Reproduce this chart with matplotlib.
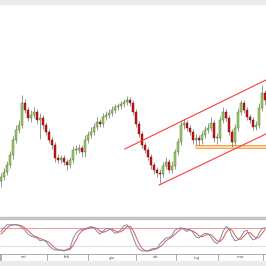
import matplotlib
matplotlib.use("Agg")
import matplotlib.pyplot as plt
from matplotlib.patches import Rectangle

# candle data (arbitrary price units)
opens = [36, 40, 45, 52, 62, 77, 87, 92, 114, 107,
         99, 102, 105, 97, 99, 92, 85, 77, 72, 59,
         57, 59, 55, 52, 57, 67, 67, 69, 65, 77,
         82, 85, 90, 95, 93, 100, 102, 104, 107, 110,
         111, 113, 115, 117, 114, 105, 93, 83, 72, 67,
         60, 52, 47, 44, 43, 51, 55, 47, 51, 65,
         75, 92, 94, 89, 85, 77, 79, 77, 82, 87,
         89, 94, 79, 79, 97, 105, 99, 85, 75, 89,
         105, 114, 107, 100, 97, 90, 92, 109, 124]
closes = [40, 45, 52, 62, 77, 87, 92, 114, 107, 99,
          102, 105, 97, 99, 92, 85, 77, 72, 59, 57,
          59, 55, 52, 57, 67, 67, 69, 65, 77, 82,
          85, 90, 95, 93, 100, 102, 104, 107, 110, 111,
          113, 115, 117, 114, 105, 93, 83, 72, 67, 60,
          52, 47, 44, 43, 51, 55, 47, 51, 65, 75,
          92, 94, 89, 85, 77, 79, 77, 82, 87, 89,
          94, 79, 79, 97, 105, 99, 85, 75, 89, 105,
          114, 107, 100, 97, 90, 92, 109, 124, 117]
highs = [44, 49, 56, 66, 81, 92, 97, 122, 118, 110,
         107, 110, 108, 104, 102, 95, 88, 80, 75, 63,
         62, 62, 58, 60, 71, 72, 73, 72, 82, 86,
         90, 94, 100, 98, 104, 106, 108, 111, 113, 114,
         116, 118, 121, 120, 117, 108, 96, 86, 75, 70,
         63, 55, 50, 48, 55, 60, 58, 56, 68, 79,
         97, 98, 97, 92, 88, 83, 82, 86, 91, 94,
         100, 97, 84, 101, 110, 108, 102, 88, 93, 109,
         117, 117, 110, 103, 100, 96, 114, 132, 127]
lows = [30, 37, 42, 49, 58, 74, 84, 89, 104, 96,
        95, 99, 93, 78, 88, 82, 74, 68, 55, 54,
        54, 52, 47, 49, 54, 63, 64, 60, 60, 74,
        79, 82, 87, 90, 90, 97, 99, 101, 104, 107,
        108, 110, 112, 111, 102, 90, 80, 69, 64, 57,
        48, 43, 40, 34, 40, 48, 44, 44, 48, 62,
        72, 88, 86, 82, 73, 72, 72, 73, 79, 84,
        86, 75, 73, 76, 94, 96, 82, 70, 72, 86,
        102, 104, 97, 94, 87, 87, 89, 106, 112]

# stochastic oscillator
stoch_k = [69, 82, 92, 92, 92, 92, 89, 82, 73, 60,
           53, 50, 47, 37, 40, 34, 21, 11, 5, 5,
           5, 2, 8, 11, 44, 63, 73, 76, 79, 82,
           86, 82, 69, 60, 69, 79, 79, 73, 63, 66,
           76, 89, 92, 79, 50, 24, 8, 2, 2, 2,
           8, 11, 11, 27, 37, 47, 47, 56, 73, 79,
           82, 76, 69, 76, 66, 50, 47, 56, 63, 60,
           50, 34, 27, 40, 69, 86, 79, 53, 37, 40,
           50, 69, 73, 53, 40, 44, 63, 79, 82]
stoch_d = [60, 70, 81, 89, 92, 92, 91, 88, 81, 72,
           62, 54, 50, 45, 41, 37, 32, 22, 12, 7,
           5, 4, 5, 7, 21, 39, 60, 71, 76, 79,
           82, 83, 79, 70, 66, 69, 76, 77, 72, 67,
           68, 77, 86, 87, 74, 51, 27, 11, 4, 2,
           4, 7, 10, 16, 25, 37, 44, 50, 59, 69,
           78, 79, 76, 74, 70, 64, 54, 51, 55, 60,
           58, 48, 37, 34, 45, 65, 78, 73, 56, 43,
           42, 53, 64, 65, 55, 46, 49, 62, 75]

# trend channel and support zone (index, price)
upper_channel = ([41.3, 88.3], [68, 137])
lower_channel = ([52.7, 88.3], [32, 83])
support_zone = (64.7, 69, 72)

month_labels = ["set", "feb", "giu", "ott", "lug", "mar"]
month_edges = [0.0, 15.3, 29.0, 45.0, 58.3, 72.3, 87.3]

n = len(closes)
idx = list(range(n))

fig = plt.figure(figsize=(2.66, 2.66), dpi=100)
H = 266.0

def fy(px):
    return 1 - px / H

# top strip and background bands
fig.patches.append(Rectangle((0, fy(4)), 1, 4 / H, transform=fig.transFigure,
                             color="#ebebeb", zorder=0))
fig.patches.append(Rectangle((0, fy(219)), 1, 2 / H, transform=fig.transFigure,
                             color="#c4c4c4", zorder=0))
fig.patches.append(Rectangle((0, 0), 1, 5 / H, transform=fig.transFigure,
                             color="#ececec", zorder=0))

ax = fig.add_axes([0, fy(217), 1, (217 - 5) / H])
ax.set_xlim(-0.33, 88.33)
ax.set_ylim(0, 212)
ax.axis("off")

# support zone
z0, zlo, zhi = support_zone
ax.fill_between([z0, 89], zlo, zhi, color="#fbd7ab", lw=0, zorder=1)
ax.hlines([zlo, zhi], z0, 89, color="#f29a3c", lw=0.6, zorder=1)

ax.vlines(idx, lows, highs, color="#6e6e6e", lw=0.5, zorder=2)
for i in idx:
    up = closes[i] >= opens[i]
    lo = min(opens[i], closes[i])
    h = max(abs(closes[i] - opens[i]), 0.8)
    ax.bar(i, h, bottom=lo, width=0.62,
           color="#9fcf63" if up else "#d01515",
           edgecolor="#3f6b1c" if up else "#6a0a0a", lw=0.3, zorder=3)

ax.plot(*upper_channel, color="#ff3b3b", lw=0.8, zorder=4)
ax.plot(*lower_channel, color="#ff3b3b", lw=0.8, zorder=4)

# oscillator panel
ax2 = fig.add_axes([0, fy(253), 1, (253 - 221) / H])
ax2.set_xlim(-0.33, 88.33)
ax2.set_ylim(-5, 105)
ax2.axhline(80, color="#f08a8a", lw=0.6)
ax2.axhline(20, color="#cfcfcf", lw=0.5)
ax2.plot(idx, stoch_d, color="#e85555", lw=0.7)
ax2.plot(idx, stoch_k, color="#7c89a6", lw=0.7)
ax2.set_xticks([])
ax2.set_yticks([])
for s in ax2.spines.values():
    s.set_visible(False)

# time axis band
ax3 = fig.add_axes([0, fy(261), 1, (261 - 254) / H])
ax3.set_xlim(-0.33, 88.33)
ax3.set_ylim(0, 1)
ax3.set_xticks([])
ax3.set_yticks([])
for s in ax3.spines.values():
    s.set_color("#8c8c8c")
    s.set_linewidth(0.5)
ax3.vlines(month_edges, 0, 1, color="#8c8c8c", lw=0.5)
for k, lab in enumerate(month_labels):
    ax3.text((month_edges[k] + month_edges[k + 1]) / 2, 0.5, lab,
             ha="center", va="center", fontsize=2.8, color="#555555")

fig.savefig("out.png", dpi=100)
